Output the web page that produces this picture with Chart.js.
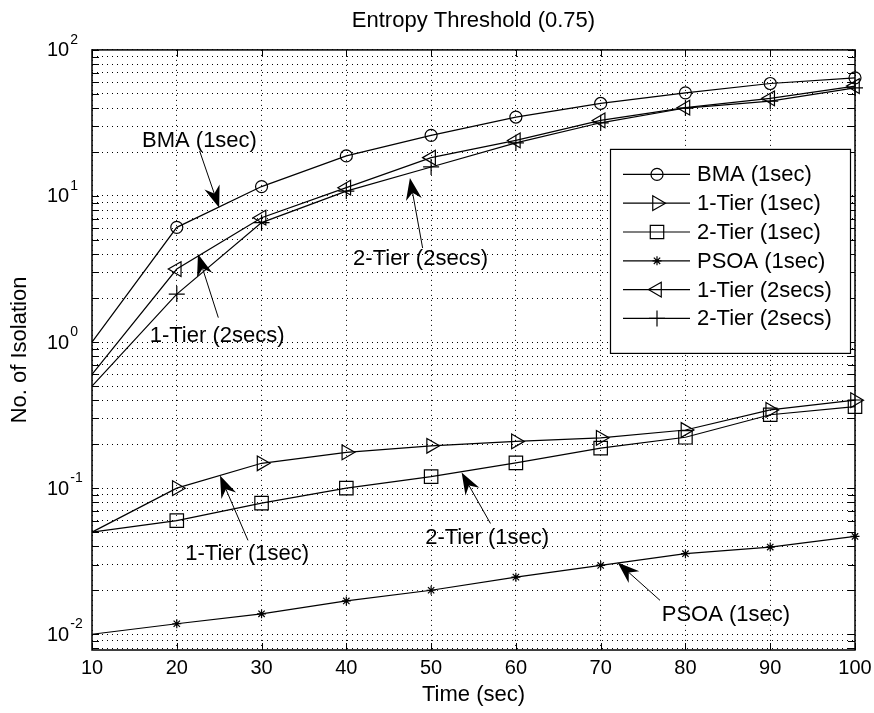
<!DOCTYPE html>
<html>
<head>
<meta charset="utf-8">
<script src="https://cdn.jsdelivr.net/npm/chart.js@4.4.1/dist/chart.umd.min.js"></script>
<style>
  html, body { margin: 0; padding: 0; background: #fff; }
  canvas { display: block; }
</style>
</head>
<body>
<canvas id="chart" width="874" height="713"></canvas>
<script>
// x values (seconds)
const timeSec = [10, 20, 30, 40, 50, 60, 70, 80, 90, 100];

// series
const bma1sec   = [1.0, 6.1, 11.6, 18.8, 26, 34.7, 43, 50.8, 58.9, 64.4];
const tier1_1sec = [0.05, 0.1, 0.148, 0.176, 0.195, 0.209, 0.221, 0.25, 0.343, 0.40];
const tier2_1sec = [0.05, 0.06, 0.079, 0.1, 0.12, 0.149, 0.188, 0.223, 0.318, 0.361];
const psoa1sec  = [0.01, 0.0118, 0.0138, 0.0169, 0.020, 0.0246, 0.0296, 0.0356, 0.0395, 0.0467];
const tier1_2sec = [0.6, 3.16, 7.1, 11.4, 18.3, 24, 32.9, 40.2, 46.6, 56.5];
const tier2_2sec = [0.5, 2.13, 6.57, 10.8, 15.8, 23.1, 31.7, 40, 44.6, 55];

const seriesNames = ['BMA (1sec)', '1-Tier (1sec)', '2-Tier (1sec)', 'PSOA (1sec)', '1-Tier (2secs)', '2-Tier (2secs)'];
const seriesValues = [bma1sec, tier1_1sec, tier2_1sec, psoa1sec, tier1_2sec, tier2_2sec];

// axis ticks
const xTicks = [10, 20, 30, 40, 50, 60, 70, 80, 90, 100];
const yMajorExponents = [-2, -1, 0, 1, 2];
const yMinorSteps = [2, 3, 4, 5, 6, 7, 8, 9];
const yBelowMin = [0.008, 0.009];
const yMin = 0.0078, yMax = 100;

// arrow annotations (data coordinates)
const noteText = ['BMA (1sec)', '1-Tier (2secs)', '2-Tier (2secs)', '1-Tier (1sec)', '2-Tier (1sec)', 'PSOA (1sec)'];
const noteTextAt = [[15.9, 24], [16.8, 1.1], [40.8, 3.7], [21.0, 0.0357], [49.3, 0.0459], [77.2, 0.01345]];
const noteTail = [[22.7, 20.3], [24.9, 1.47], [49.0, 4.4], [28.4, 0.0439], [57.0, 0.0573], [77.0, 0.01706]];
const noteTip = [[25.0, 8.3], [22.5, 4.0], [47.5, 13.3], [25.1, 0.122], [53.6, 0.128], [72.0, 0.031]];

const markers = [
  { style: 'circle', radius: 6, rotation: 0 },
  { style: 'triangle', radius: 8.5, rotation: 90 },
  { style: 'rect', radius: 9.5, rotation: 0 },
  { style: 'star', radius: 4.5, rotation: 0 },
  { style: 'triangle', radius: 8.5, rotation: -90 },
  { style: 'cross', radius: 8, rotation: 0 }
];

// grid values for the log axis
const yGrid = yBelowMin.slice();
yMajorExponents.forEach(e => {
  yGrid.push(Math.pow(10, e));
  if (e < 2) yMinorSteps.forEach(m => yGrid.push(m * Math.pow(10, e)));
});

const FONT = '"Liberation Sans", Arial, Helvetica, sans-serif';
Chart.defaults.font.family = FONT;
Chart.defaults.color = '#000';

function drawMarker(ctx, m, px, py) {
  ctx.save();
  ctx.strokeStyle = '#000';
  ctx.fillStyle = 'rgba(0,0,0,0)';
  ctx.lineWidth = 1.2;
  Chart.helpers.drawPoint(ctx, { pointStyle: m.style, radius: m.radius, rotation: m.rotation, borderWidth: 1.2 }, px, py);
  ctx.restore();
}

const decor = {
  id: 'decor',
  afterDatasetsDraw(chart) {
    const { ctx, chartArea: a, scales: { x, y } } = chart;
    ctx.save();

    // frame
    ctx.strokeStyle = '#000';
    ctx.lineWidth = 1.5;
    ctx.strokeRect(a.left, a.top, a.right - a.left, a.bottom - a.top);

    // inward tick marks
    ctx.lineWidth = 1;
    ctx.beginPath();
    xTicks.forEach(v => {
      const px = Math.round(x.getPixelForValue(v)) + 0.5;
      ctx.moveTo(px, a.bottom); ctx.lineTo(px, a.bottom - 7);
      ctx.moveTo(px, a.top); ctx.lineTo(px, a.top + 7);
    });
    yGrid.forEach(v => {
      const py = Math.round(y.getPixelForValue(v)) + 0.5;
      ctx.moveTo(a.left, py); ctx.lineTo(a.left + 7, py);
      ctx.moveTo(a.right, py); ctx.lineTo(a.right - 7, py);
    });
    ctx.stroke();

    // y labels 10^n
    ctx.fillStyle = '#000';
    yMajorExponents.forEach(e => {
      const py = y.getPixelForValue(Math.pow(10, e));
      ctx.font = '20px ' + FONT;
      ctx.textAlign = 'left';
      ctx.textBaseline = 'middle';
      const lx = a.left - 45;
      ctx.fillText('10', lx, py + 1);
      const w = ctx.measureText('10').width;
      ctx.font = '14px ' + FONT;
      ctx.textBaseline = 'alphabetic';
      ctx.fillText(String(e), lx + w + 1, py - 6);
    });

    // arrows with text
    ctx.font = '22px ' + FONT;
    ctx.textAlign = 'left';
    ctx.textBaseline = 'middle';
    noteText.forEach((t, i) => {
      const tx = x.getPixelForValue(noteTextAt[i][0]);
      const ty = y.getPixelForValue(noteTextAt[i][1]);
      ctx.fillText(t, tx, ty);
      const x0 = x.getPixelForValue(noteTail[i][0]), y0 = y.getPixelForValue(noteTail[i][1]);
      const x1 = x.getPixelForValue(noteTip[i][0]), y1 = y.getPixelForValue(noteTip[i][1]);
      const ang = Math.atan2(y1 - y0, x1 - x0);
      const hl = 22, hw = 8, notch = 7;
      const c = Math.cos(ang), s = Math.sin(ang);
      const bx = x1 - hl * c, by = y1 - hl * s;
      ctx.beginPath();
      ctx.moveTo(x0, y0); ctx.lineTo(x1 - (hl - notch) * c, y1 - (hl - notch) * s);
      ctx.lineWidth = 1;
      ctx.stroke();
      ctx.beginPath();
      ctx.moveTo(x1, y1);
      ctx.lineTo(bx + hw * s, by - hw * c);
      ctx.lineTo(x1 - (hl - notch) * c, y1 - (hl - notch) * s);
      ctx.lineTo(bx - hw * s, by + hw * c);
      ctx.closePath();
      ctx.fill();
    });

    // legend box
    const lg = { left: a.right - 245, top: a.top + 99, w: 240, h: 204 };
    ctx.fillStyle = '#fff';
    ctx.fillRect(lg.left, lg.top, lg.w, lg.h);
    ctx.strokeStyle = '#000';
    ctx.lineWidth = 1.2;
    ctx.strokeRect(lg.left + 0.5, lg.top + 0.5, lg.w, lg.h);
    seriesNames.forEach((name, i) => {
      const ry = lg.top + 25.5 + i * 28.8;
      ctx.beginPath();
      ctx.moveTo(lg.left + 13, ry); ctx.lineTo(lg.left + 80, ry);
      ctx.strokeStyle = '#000';
      ctx.lineWidth = 1.2;
      ctx.stroke();
      drawMarker(ctx, markers[i], lg.left + 47, ry);
      ctx.fillStyle = '#000';
      ctx.font = '22px ' + FONT;
      ctx.textAlign = 'left';
      ctx.textBaseline = 'middle';
      ctx.fillText(name, lg.left + 87, ry + 1);
    });
    ctx.restore();
  }
};

new Chart(document.getElementById('chart'), {
  type: 'line',
  data: {
    datasets: seriesNames.map((name, i) => ({
      label: name,
      data: timeSec.map((t, k) => ({ x: t, y: seriesValues[i][k] })),
      borderColor: '#000',
      borderWidth: 1.2,
      pointStyle: markers[i].style,
      pointRadius: timeSec.map((t, k) => k === 0 ? 0 : markers[i].radius),
      pointRotation: markers[i].rotation,
      pointBorderColor: '#000',
      pointBackgroundColor: 'rgba(0,0,0,0)',
      pointBorderWidth: 1.2,
      tension: 0,
      fill: false,
      clip: false
    }))
  },
  options: {
    responsive: false,
    animation: false,
    events: [],
    layout: { padding: { left: 0, right: 19, top: 0, bottom: 0 } },
    plugins: {
      legend: { display: false },
      tooltip: { enabled: false },
      title: {
        display: true,
        text: 'Entropy Threshold (0.75)',
        fullSize: false,
        font: { size: 22, weight: 'normal' },
        color: '#000',
        padding: { top: 8, bottom: 15.5 }
      }
    },
    scales: {
      x: {
        type: 'linear',
        min: 10,
        max: 100,
        afterBuildTicks: s => { s.ticks = xTicks.map(v => ({ value: v })); },
        afterFit: s => { s.height = 63; s.paddingLeft = 0; s.paddingRight = 0; },
        ticks: { font: { size: 20 }, padding: 6, color: '#000', maxRotation: 0 },
        grid: { color: '#000', lineWidth: 1, drawTicks: false },
        border: { display: false, dash: [1, 4] },
        title: { display: true, text: 'Time (sec)', font: { size: 22 }, color: '#000', padding: { top: 0, bottom: 5 } }
      },
      y: {
        type: 'logarithmic',
        min: yMin,
        max: yMax,
        afterBuildTicks: s => { s.ticks = yGrid.map(v => ({ value: v })); },
        afterFit: s => { s.width = 92; s.paddingTop = 0; s.paddingBottom = 0; },
        ticks: { display: false },
        grid: { color: '#000', lineWidth: 1, drawTicks: false },
        border: { display: false, dash: [1, 4] },
        title: { display: true, text: 'No. of Isolation', font: { size: 22 }, color: '#000', padding: { top: 7, bottom: 0 } }
      }
    }
  },
  plugins: [decor]
});
</script>
</body>
</html>
